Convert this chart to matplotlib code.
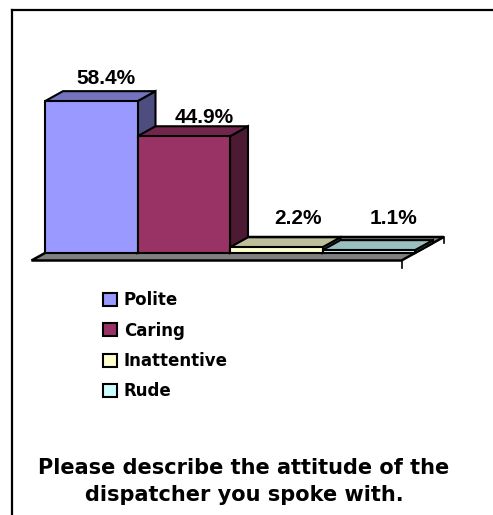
import matplotlib.pyplot as plt
from matplotlib.patches import Polygon, Patch
from matplotlib.lines import Line2D

# Survey answers
categories = ['Polite', 'Caring', 'Inattentive', 'Rude']
percent = [58.4, 44.9, 2.2, 1.1]
labels = ['58.4%', '44.9%', '2.2%', '1.1%']

front_colors = ['#9999FF', '#993366', '#FFFFCC', '#CCFFFF']
top_colors = ['#7373BF', '#73264D', '#BFBF99', '#99BFBF']
side_colors = ['#4D4D80', '#4D1A33', '#808066', '#668080']

# depth of a bar in data units (x in bar widths, y in percent)
DX, DY = 18 / 92.5, 10 / 2.6
FLOOR_FRONT, FLOOR_BACK = -0.75, 1.6
# small nudges (pixels) for the value labels
label_nudge = [(-3.5, 13), (2, 8.5), (4, 18.5), (7, 21.5)]

fig = plt.figure(figsize=(4.93, 5.15), dpi=100)
ax = fig.add_axes([45 / 493, 262 / 515, 370 / 493, 156 / 515])
ax.set_xlim(0, len(percent))
ax.set_ylim(0, 60)
ax.axis('off')

# floor
n = len(percent)
floor = Polygon([(FLOOR_FRONT * DX, FLOOR_FRONT * DY), (n + FLOOR_FRONT * DX, FLOOR_FRONT * DY),
                 (n + FLOOR_BACK * DX, FLOOR_BACK * DY), (FLOOR_BACK * DX, FLOOR_BACK * DY)],
                closed=True, facecolor='#808080', edgecolor='black', lw=1.8, zorder=1, clip_on=False)
ax.add_patch(floor)
for d, drop in [(FLOOR_FRONT, 3.0), (FLOOR_BACK, 2.3)]:
    x0, y0 = n + d * DX, d * DY
    ax.add_line(Line2D([x0, x0], [y0, y0 - drop], color='black', lw=1.2, zorder=1, clip_on=False))

# front faces
xs = list(range(n))
ax.bar(xs, percent, width=1, align='edge', color=front_colors, edgecolor='black',
       linewidth=1.5, zorder=3, clip_on=False)

# side and top faces
for i, v in enumerate(percent):
    side = Polygon([(i + 1, 0), (i + 1 + DX, DY), (i + 1 + DX, v + DY), (i + 1, v)],
                   closed=True, facecolor=side_colors[i], edgecolor='black', lw=1.5,
                   zorder=2, clip_on=False)
    top = Polygon([(i, v), (i + 1, v), (i + 1 + DX, v + DY), (i + DX, v + DY)],
                  closed=True, facecolor=top_colors[i], edgecolor='black', lw=1.5,
                  zorder=2, clip_on=False)
    ax.add_patch(side)
    ax.add_patch(top)

# value labels
for i, (v, txt) in enumerate(zip(percent, labels)):
    ax.annotate(txt, (i + 0.5 + DX, v + DY), xytext=label_nudge[i], textcoords='offset pixels',
                ha='center', va='center', fontsize=15, fontweight='bold',
                family='Liberation Sans', zorder=5, annotation_clip=False)

# legend
handles = [Patch(facecolor=c, edgecolor='black', lw=1.5, label=l)
           for c, l in zip(front_colors, categories)]
fig.legend(handles=handles, loc='upper left', bbox_to_anchor=(103 / 493, 1 - 291 / 515),
           frameon=False, prop=dict(family='DejaVu Sans', weight='bold', size=12),
           handlelength=0.85, handleheight=0.85, handletextpad=0.4, labelspacing=0.75,
           borderaxespad=0, borderpad=0)

fig.text(244 / 493, 33.5 / 515, 'Please describe the attitude of the\ndispatcher you spoke with.',
         ha='center', va='center', fontsize=15, fontweight='bold', family='DejaVu Sans',
         linespacing=1.45)

# frame
fig.add_artist(Line2D([12 / 493, 1], [1 - 10 / 515] * 2, transform=fig.transFigure,
                      color='black', lw=1.6))
fig.add_artist(Line2D([12 / 493] * 2, [1 - 10 / 515, 0], transform=fig.transFigure,
                      color='black', lw=1.6))

fig.savefig('out.png', dpi=100)
